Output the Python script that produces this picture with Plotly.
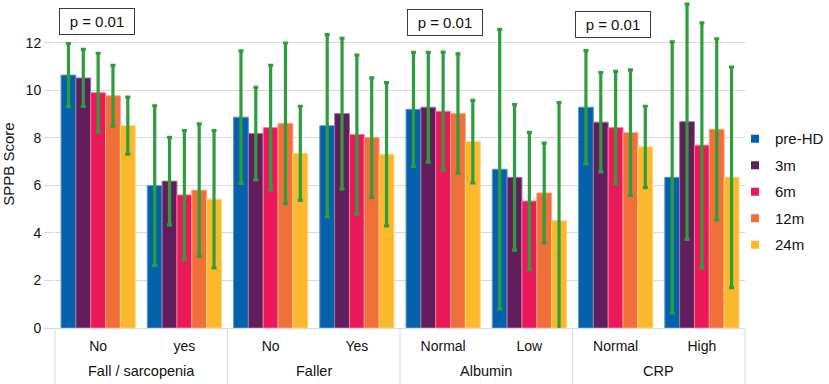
import plotly.graph_objects as go

# ---- data ----
groups = ["Fall / sarcopenia", "Fall / sarcopenia", "Faller", "Faller",
          "Albumin", "Albumin", "CRP", "CRP"]
subcats = ["No", "yes", "No", "Yes", "Normal", "Low", "Normal", "High"]

series_names = ["pre-HD", "3m", "6m", "12m", "24m"]

pre_hd = [10.64, 5.99, 8.87, 8.51, 9.20, 6.68, 9.29, 6.34]
m3 = [10.52, 6.18, 8.18, 9.02, 9.29, 6.34, 8.66, 8.68]
m6 = [9.90, 5.60, 8.43, 8.14, 9.12, 5.34, 8.43, 7.69]
m12 = [9.77, 5.80, 8.61, 8.01, 9.02, 5.68, 8.22, 8.36]
m24 = [8.51, 5.42, 7.35, 7.31, 7.84, 4.51, 7.62, 6.34]

sd_pre_hd = [1.33, 3.36, 2.79, 3.83, 2.40, 5.88, 2.38, 5.70]
sd_m3 = [1.20, 1.84, 1.95, 3.17, 2.31, 3.06, 2.09, 4.95]
sd_m6 = [1.66, 2.71, 2.62, 3.34, 2.49, 2.89, 2.37, 5.15]
sd_m12 = [1.28, 2.79, 3.38, 2.51, 2.51, 2.10, 2.64, 3.81]
sd_m24 = [1.20, 2.89, 1.98, 3.01, 1.74, 4.97, 1.71, 4.64]

p_labels = ["p = 0.01", "p = 0.01", "p = 0.01"]
y_ticks = [0, 2, 4, 6, 8, 10, 12]

# ---- styling ----
colors = ["#0562AA", "#621E5C", "#EC195A", "#F16F38", "#FBB82C"]
edge = ["#5E98CC", "#A07A9C", "#F27A9E", "#F6A47F", "#FCD27A"]
err_color = "#2E9E3C"
grid_color = "#D9D9D9"
font_family = "Arial, Liberation Sans, sans-serif"

means = [pre_hd, m3, m6, m12, m24]
sds = [sd_pre_hd, sd_m3, sd_m6, sd_m12, sd_m24]
n = len(subcats)
xpos = list(range(n))

fig = go.Figure()
for name, vals, sd, c, ec in zip(series_names, means, sds, colors, edge):
    fig.add_trace(go.Bar(
        x=xpos, y=vals, name=name,
        marker=dict(color=c, line=dict(color=ec, width=1)),
        error_y=dict(type="data", array=sd, visible=True,
                     color=err_color, thickness=3.2, width=2.5),
        showlegend=False,
    ))

# legend entries (small squares)
for name, c in zip(series_names, colors):
    fig.add_trace(go.Scatter(
        x=[None], y=[None], mode="markers", name=name,
        marker=dict(symbol="square", size=8, color=c),
        legendgroup=name, showlegend=True, hoverinfo="skip",
    ))

# group labels and dividers, derived from the category arrays
group_order = []
for g in groups:
    if g not in group_order:
        group_order.append(g)
for g in group_order:
    idx = [i for i, gg in enumerate(groups) if gg == g]
    centre = (sum(idx) / len(idx) + 0.5) / n
    fig.add_annotation(
        text=g, xref="paper", yref="paper", x=centre, y=0,
        xanchor="center", yanchor="middle", yshift=-43, showarrow=False,
        font=dict(size=14.5, color="#111111", family=font_family),
    )
bounds = [0] + [i + 1 for i in range(n - 1) if groups[i] != groups[i + 1]] + [n]
for b in bounds:
    fig.add_shape(type="line", xref="paper", yref="paper",
                  x0=b / n, x1=b / n, y0=0, y1=-0.3,
                  line=dict(color=grid_color, width=1))

# p-value boxes
p_pos = [(0.0605, 0.935), (0.5645, 0.931), (0.808, 0.925)]
for txt, (px, py) in zip(p_labels, p_pos):
    fig.add_annotation(
        text=txt, xref="paper", yref="paper", x=px, y=py,
        xanchor="center", yanchor="middle", showarrow=False,
        font=dict(size=15, color="#111111", family=font_family),
        bgcolor="white", bordercolor="#3a3a3a", borderwidth=1,
        borderpad=1, width=72, height=23,
    )

fig.update_layout(
    width=829, height=384,
    margin=dict(l=55, r=72, t=0, b=56),
    paper_bgcolor="white", plot_bgcolor="white",
    barmode="group", bargap=0.14, bargroupgap=0,
    font=dict(family=font_family, size=14, color="#111111"),
    legend=dict(x=0.986, xanchor="left", y=0.415, yanchor="middle",
                font=dict(size=15), tracegroupgap=4,
                traceorder="grouped", bgcolor="rgba(0,0,0,0)"),
)
fig.update_yaxes(
    range=[0, 13.8], tickvals=y_ticks,
    showgrid=True, gridcolor=grid_color, gridwidth=1,
    ticks="outside", ticklen=10, tickcolor=grid_color,
    tickfont=dict(size=14, color="#111111"),
    zeroline=False, showline=False,
    title=dict(text="SPPB Score", font=dict(size=15), standoff=8),
)
fig.update_xaxes(
    range=[-0.5, n - 0.5], tickvals=xpos, ticktext=subcats,
    showline=True, linecolor=grid_color, ticks="",
    ticklabelstandoff=5,
    tickfont=dict(size=14, color="#111111"),
    showgrid=False, zeroline=False,
)

fig.write_html(
    "out.html",
    config={"displayModeBar": False},
    post_script="document.body.style.margin='0';document.body.style.padding='0';"
                "document.body.style.overflow='hidden';",
)
